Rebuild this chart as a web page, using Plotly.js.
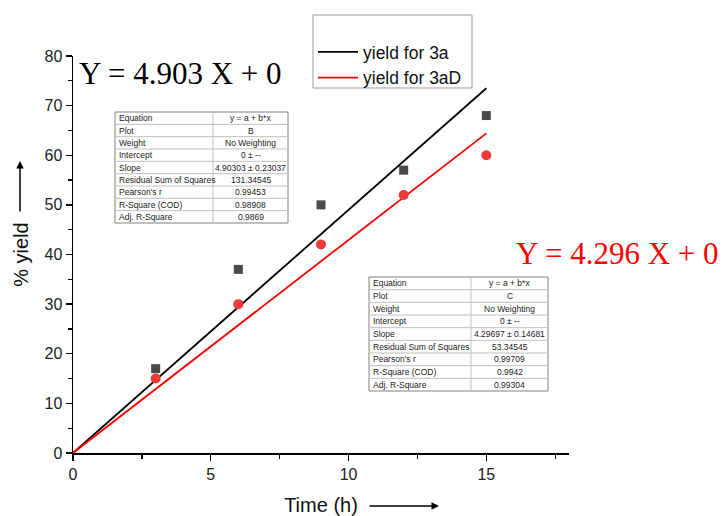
<!DOCTYPE html>
<html>
<head>
<meta charset="utf-8">
<script src="https://cdn.plot.ly/plotly-3.0.1.min.js"></script>
<style>html,body{margin:0;padding:0;background:#fff;}#chart{width:725px;height:516px;}</style>
</head>
<body>
<div id="chart"></div>
<script>
// ---- data ----
var timeH = [3, 6, 9, 12, 15];
var yield3a = [17, 37, 50, 57, 68];
var yield3aD = [15, 30, 42, 52, 60];
var fitX = [0, 15];
var fit3a = [0, 73.5];
var fit3aD = [0, 64.4];
var seriesNames = ["yield for 3a", "yield for 3aD"];
var eq3a = "Y = 4.903 X + 0";
var eq3aD = "Y = 4.296 X + 0";
var tableLabels = ["Equation", "Plot", "Weight", "Intercept", "Slope", "Residual Sum of Squares", "Pearson's r", "R-Square (COD)", "Adj. R-Square"];
var table3aValues = ["y = a + b*x", "B", "No Weighting", "0 \u00b1 --", "4.90303 \u00b1 0.23037", "131.34545", "0.99453", "0.98908", "0.9869"];
var table3aDValues = ["y = a + b*x", "C", "No Weighting", "0 \u00b1 --", "4.29697 \u00b1 0.14681", "53.34545", "0.99709", "0.9942", "0.99304"];
var xTickVals = [0, 5, 10, 15];
var yTickVals = [0, 10, 20, 30, 40, 50, 60, 70, 80];

// ---- geometry helpers (pixel -> paper) ----
var W = 725, H = 516, mL = 73, mR = 156, mT = 56, mB = 63;
var pw = W - mL - mR, ph = H - mT - mB;
function px(x) { return (x - mL) / pw; }
function py(y) { return (H - mB - y) / ph; }

var traces = [
  {x: fitX, y: fit3a, mode: 'lines', name: seriesNames[0], line: {color: '#000000', width: 1.8}},
  {x: fitX, y: fit3aD, mode: 'lines', name: seriesNames[1], line: {color: '#ff0000', width: 1.8}},
  {x: timeH, y: yield3a, mode: 'markers', showlegend: false, marker: {symbol: 'square', size: 9, color: '#4a4a4a'}},
  {x: timeH, y: yield3aD, mode: 'markers', showlegend: false, marker: {symbol: 'circle', size: 10, color: '#ef3a3a'}}
];

var annotations = [];
var shapes = [];

// legend frame
shapes.push({type: 'rect', xref: 'paper', yref: 'paper', x0: px(313), x1: px(472), y0: py(15), y1: py(88),
  line: {color: '#999', width: 1}, fillcolor: '#ffffff', layer: 'above'});

function addTable(labels, values, left, right, top, bottom, div) {
  var n = labels.length, rh = (bottom - top) / n;
  shapes.push({type: 'rect', xref: 'paper', yref: 'paper', x0: px(left), x1: px(right), y0: py(top), y1: py(bottom),
    line: {color: '#808080', width: 1}, fillcolor: '#ffffff', layer: 'above'});
  for (var i = 1; i < n; i++) {
    shapes.push({type: 'line', xref: 'paper', yref: 'paper', x0: px(left), x1: px(right), y0: py(top + i * rh), y1: py(top + i * rh),
      line: {color: '#c0c0c0', width: 1}, layer: 'above'});
  }
  shapes.push({type: 'line', xref: 'paper', yref: 'paper', x0: px(div), x1: px(div), y0: py(top), y1: py(bottom),
    line: {color: '#c0c0c0', width: 1}, layer: 'above'});
  for (var j = 0; j < n; j++) {
    var yc = py(top + (j + 0.5) * rh);
    annotations.push({xref: 'paper', yref: 'paper', x: px(left + 2), y: yc, xanchor: 'left', yanchor: 'middle',
      text: labels[j], showarrow: false, font: {family: 'Liberation Sans, Arial', size: 8.5, color: '#222'}});
    annotations.push({xref: 'paper', yref: 'paper', x: px((div + right) / 2), y: yc, xanchor: 'center', yanchor: 'middle',
      text: values[j], showarrow: false, font: {family: 'Liberation Sans, Arial', size: 8.5, color: '#222'}});
  }
}
addTable(tableLabels, table3aValues, 115, 288, 112, 223, 213);
addTable(tableLabels, table3aDValues, 369, 548, 277, 391, 471);

annotations.push({xref: 'paper', yref: 'paper', x: px(180), y: py(74), xanchor: 'center', yanchor: 'middle',
  text: eq3a, showarrow: false, font: {family: 'Liberation Serif, Times New Roman', size: 31, color: '#000'}});
annotations.push({xref: 'paper', yref: 'paper', x: px(617), y: py(253), xanchor: 'center', yanchor: 'middle',
  text: eq3aD, showarrow: false, font: {family: 'Liberation Serif, Times New Roman', size: 31, color: '#ff0000'}});

// arrows next to axis titles
annotations.push({xref: 'paper', yref: 'paper', x: px(20), y: py(161), ax: 0, ay: 52, axref: 'pixel', ayref: 'pixel',
  text: '', showarrow: true, arrowhead: 2, arrowsize: 1, arrowwidth: 1.5, arrowcolor: '#000'});
annotations.push({xref: 'paper', yref: 'paper', x: px(439), y: py(506), ax: -71, ay: 0,
  text: '', showarrow: true, arrowhead: 2, arrowsize: 1, arrowwidth: 1.5, arrowcolor: '#000'});

var layout = {
  width: W, height: H,
  margin: {l: mL, r: mR, t: mT, b: mB, pad: 0},
  paper_bgcolor: '#ffffff', plot_bgcolor: '#ffffff',
  font: {family: 'Liberation Sans, Arial', color: '#222'},
  xaxis: {
    range: [0, 18], tickvals: xTickVals, ticks: 'outside', ticklen: 6, tickwidth: 1.3, tickcolor: '#000',
    showline: true, linecolor: '#000', linewidth: 1.5, showgrid: false, zeroline: false,
    minor: {dtick: 2.5, tick0: 0, ticks: 'outside', ticklen: 4, tickwidth: 1.3, tickcolor: '#000', showgrid: false},
    tickfont: {size: 16, color: '#222'},
    title: {text: 'Time (h)', font: {size: 20, color: '#111'}, standoff: 16}
  },
  yaxis: {
    range: [0, 80], tickvals: yTickVals, ticks: 'outside', ticklen: 6, tickwidth: 1.3, tickcolor: '#000',
    showline: true, linecolor: '#000', linewidth: 1.5, showgrid: false, zeroline: false,
    minor: {dtick: 5, tick0: 0, ticks: 'outside', ticklen: 4, tickwidth: 1.3, tickcolor: '#000', showgrid: false},
    tickfont: {size: 16, color: '#222'},
    title: {text: '% yield', font: {size: 20, color: '#111'}, standoff: 10}
  },
  showlegend: true,
  legend: {
    x: px(313), y: py(34), xanchor: 'left', yanchor: 'top',
    bgcolor: 'rgba(0,0,0,0)', borderwidth: 0,
    font: {size: 17.5, color: '#111'}, itemwidth: 40, tracegroupgap: 0
  },
  annotations: annotations,
  shapes: shapes
};

Plotly.newPlot('chart', traces, layout, {displayModeBar: false, staticPlot: true});
</script>
</body>
</html>
